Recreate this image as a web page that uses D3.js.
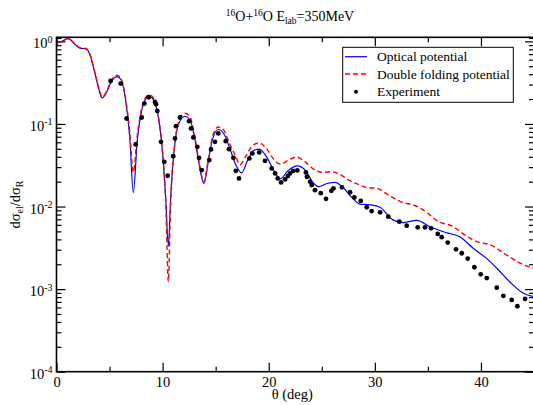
<!DOCTYPE html>
<html>
<head>
<meta charset="utf-8">
<script src="https://cdn.jsdelivr.net/npm/d3@7"></script>
<style>
  body { margin: 0; background: #fff; }
  text { font-family: "Liberation Serif", "DejaVu Serif", serif; }
</style>
</head>
<body>
<svg id="chart"></svg>
<script>
// optical potential (blue solid)
var optAngle = [0, 0.5, 1.1, 1.7, 2.2, 2.8, 3.2, 3.6, 4.0, 4.3, 4.7, 5.2, 5.7, 6.1, 6.5, 6.9, 7.24, 7.6, 8.0, 8.4, 8.75,
  9.2, 9.6, 10.0, 10.3, 10.54, 10.75, 11.1, 11.5, 12.1, 12.6, 13.0, 13.4, 13.9, 14.3, 14.7, 15.25, 15.8, 16.3,
  16.9, 17.45, 18.0, 18.6, 19.1, 19.8, 20.5, 21.1, 21.8, 22.7, 23.5, 24.1, 24.7, 25.5, 26.25, 27.0, 27.8, 28.6,
  29.5, 30.5, 31.1, 31.7, 32.7, 33.95, 35.2, 36.0, 36.8, 38.0, 39.3, 40.5, 41.5, 42.7, 44.0, 45];
var optValue = [0.95, 1.0, 1.08, 0.93, 0.83, 0.81, 0.66, 0.42, 0.26, 0.206, 0.24, 0.33, 0.375, 0.34, 0.2, 0.07, 0.0148, 0.06, 0.14, 0.2, 0.216,
  0.19, 0.12, 0.045, 0.012, 0.0033, 0.012, 0.05, 0.1, 0.124, 0.11, 0.07, 0.035, 0.019, 0.035, 0.065, 0.0857, 0.075, 0.052,
  0.032, 0.0256, 0.036, 0.048, 0.0495, 0.04, 0.027, 0.0217, 0.027, 0.031, 0.027, 0.02, 0.0174, 0.019, 0.0196, 0.017, 0.013, 0.0107,
  0.0105, 0.0098, 0.0082, 0.0069, 0.0064, 0.0068, 0.0057, 0.0052, 0.0048, 0.0043, 0.0031, 0.00237, 0.00179, 0.00123, 0.00089, 0.00081];

// double folding potential (red dashed)
var dfAngle = [0, 0.5, 1.1, 1.7, 2.2, 2.8, 3.2, 3.6, 4.0, 4.3, 4.7, 5.2, 5.7, 6.1, 6.5, 6.9, 7.24, 7.6, 8.0, 8.4, 8.75,
  9.2, 9.6, 10.0, 10.3, 10.54, 10.75, 11.1, 11.5, 12.1, 12.6, 13.0, 13.4, 13.9, 14.3, 14.7, 15.25, 15.8, 16.3,
  16.9, 17.3, 17.8, 18.5, 19.1, 19.8, 20.5, 21.1, 21.8, 22.6, 23.4, 24.3, 25.1, 25.9, 26.6, 27.5, 28.6, 29.2,
  30.2, 31.2, 32.4, 34.0, 35.0, 35.8, 37.4, 38.5, 39.6, 40.9, 42.4, 43.7, 45];
var dfValue = [0.96, 1.0, 1.09, 0.94, 0.84, 0.82, 0.67, 0.43, 0.27, 0.21, 0.245, 0.34, 0.39, 0.35, 0.21, 0.08, 0.026, 0.07, 0.15, 0.21, 0.225,
  0.2, 0.125, 0.045, 0.011, 0.00123, 0.011, 0.05, 0.105, 0.135, 0.12, 0.075, 0.037, 0.02, 0.037, 0.07, 0.092, 0.083, 0.058,
  0.04, 0.032, 0.04, 0.055, 0.059, 0.05, 0.037, 0.0327, 0.036, 0.0397, 0.035, 0.028, 0.0259, 0.0264, 0.025, 0.021, 0.0182, 0.017,
  0.0166, 0.014, 0.0115, 0.01, 0.0083, 0.0068, 0.0057, 0.0045, 0.00376, 0.00343, 0.0026, 0.00206, 0.00178];

// experiment (black dots)
var expAngle = [5.1, 6.05, 6.6, 7.46, 8.03, 8.28, 8.69, 9.28, 9.38, 9.5, 9.85, 10.16, 10.48, 11.0, 11.17, 11.26, 11.64,
  12.49, 12.68, 12.9, 13.27, 13.43, 13.69, 14.4, 14.56, 14.94, 15.25, 15.95, 16.26, 16.67, 16.9, 17.2, 18.17, 18.46,
  19.1, 19.65, 20.28, 20.6, 20.85, 21.16, 21.54, 21.8, 22.0, 22.3, 22.7, 23.5, 23.6, 23.9, 24.05, 24.36, 24.9, 25.4,
  25.9, 26.1, 26.9, 27.66, 28.07, 28.67, 29.24, 29.7, 30.5, 31.27, 32.3, 33.0, 34.04, 34.73, 35.3, 35.93, 36.3, 36.87,
  37.65, 38.19, 38.75, 39.38, 39.98, 40.55, 41.49, 42.11, 42.9, 43.43, 44.16];
var expValue = [0.331, 0.308, 0.1164, 0.0565, 0.1197, 0.1766, 0.2104, 0.185, 0.1734, 0.1439, 0.0607, 0.0348, 0.0236, 0.0407, 0.0667, 0.094, 0.1197,
  0.1079, 0.0881, 0.0686, 0.0528, 0.0389, 0.0276, 0.0365, 0.0491, 0.0607, 0.0767, 0.0619, 0.0495, 0.0389, 0.0271, 0.0219, 0.0382, 0.044,
  0.0452, 0.0358, 0.0289, 0.0252, 0.0219, 0.0196, 0.0213, 0.0234, 0.0252, 0.0271, 0.0274, 0.0259, 0.0229, 0.02, 0.0182, 0.0158, 0.0145, 0.0124,
  0.0155, 0.0166, 0.0171, 0.0149, 0.0129, 0.0117, 0.0098, 0.0088, 0.0085, 0.00753, 0.00655, 0.00586, 0.0056, 0.0056, 0.00545, 0.00466, 0.00425, 0.00366,
  0.00303, 0.00272, 0.00234, 0.00184, 0.00151, 0.00136, 0.00104, 0.00083, 0.00074, 0.00062, 0.00076];

var xMajor = [0, 10, 20, 30, 40];
var xMinor = [5, 15, 25, 35];
var yMajor = [1e-4, 1e-3, 1e-2, 1e-1, 1];
var yExp = ["-4", "-3", "-2", "-1", "0"];
var legendLabels = ["Optical potential", "Double folding potential", "Experiment"];

var w = 533, h = 405;
var pLeft = 56.5, pTop = 37.3, pRight = 534, pBottom = 371.7;

var svg = d3.select("#chart").attr("width", w).attr("height", h);

var x = d3.scaleLinear().domain([0, 45]).range([pLeft, pRight]);
var y = d3.scaleLog().domain([1e-4, 1.12]).range([pBottom, pTop]);

var yMinor = [];
for (var e = -4; e < 1; e++) {
  for (var k = 2; k <= 9; k++) {
    var v = k * Math.pow(10, e);
    if (v < 1.12) yMinor.push(v);
  }
}
yMinor.push(1.1);

svg.append("clipPath").attr("id", "clip")
  .append("rect").attr("x", pLeft).attr("y", pTop)
  .attr("width", pRight - pLeft).attr("height", pBottom - pTop);

// axes, ticks inward
function noLine(g) { g.select(".domain").remove(); }

svg.append("g").attr("transform", "translate(0," + pBottom + ")")
  .call(d3.axisBottom(x).tickValues(xMajor).tickSize(-9).tickPadding(5).tickFormat(d3.format("d")))
  .call(noLine)
  .call(function(g) { g.selectAll("text").attr("font-size", 14.5).attr("fill", "#000")
    .style("font-family", "Liberation Serif"); });
svg.append("g").attr("transform", "translate(0," + pBottom + ")")
  .call(d3.axisBottom(x).tickValues(xMinor).tickSize(-5).tickFormat(""))
  .call(noLine);
svg.append("g").attr("transform", "translate(0," + pTop + ")")
  .call(d3.axisTop(x).tickValues(xMajor).tickSize(-9).tickFormat(""))
  .call(noLine);
svg.append("g").attr("transform", "translate(0," + pTop + ")")
  .call(d3.axisTop(x).tickValues(xMinor).tickSize(-5).tickFormat(""))
  .call(noLine);

var yAxis = svg.append("g").attr("transform", "translate(" + pLeft + ",0)")
  .call(d3.axisLeft(y).tickValues(yMajor).tickSize(-9).tickPadding(4).tickFormat(""))
  .call(noLine);
svg.append("g").attr("transform", "translate(" + pLeft + ",0)")
  .call(d3.axisLeft(y).tickValues(yMinor).tickSize(-5).tickFormat(""))
  .call(noLine);
svg.append("g").attr("transform", "translate(" + pRight + ",0)")
  .call(d3.axisRight(y).tickValues(yMajor).tickSize(-9).tickFormat(""))
  .call(noLine);
svg.append("g").attr("transform", "translate(" + pRight + ",0)")
  .call(d3.axisRight(y).tickValues(yMinor).tickSize(-5).tickFormat(""))
  .call(noLine);

svg.selectAll(".tick line").attr("stroke", "#000").attr("stroke-width", 1.2);

// y tick labels 10^n
yAxis.selectAll(".tick text").each(function(d, i) {
  var t = d3.select(this).attr("x", -4).attr("dy", "0.45em")
    .attr("font-size", 14.5).attr("fill", "#000").attr("text-anchor", "end")
    .style("font-family", "Liberation Serif");
  t.append("tspan").text("10");
  t.append("tspan").attr("dy", "-0.55em").attr("font-size", 10).text(yExp[i]);
});

// curves
var line = d3.line()
  .x(function(d) { return x(d[0]); })
  .y(function(d) { return y(d[1]); })
  .curve(d3.curveMonotoneX);

var opt = optAngle.map(function(a, i) { return [a, optValue[i]]; });
var df = dfAngle.map(function(a, i) { return [a, dfValue[i]]; });
var ex = expAngle.map(function(a, i) { return [a, expValue[i]]; });

var plot = svg.append("g").attr("clip-path", "url(#clip)");

plot.append("path").datum(opt)
  .attr("d", line).attr("fill", "none")
  .attr("stroke", "#0000ff").attr("stroke-width", 1.2);

plot.append("path").datum(df)
  .attr("d", line).attr("fill", "none")
  .attr("stroke", "#ff0000").attr("stroke-width", 1.4)
  .attr("stroke-dasharray", "5,3");

plot.selectAll("circle").data(ex).enter().append("circle")
  .attr("cx", function(d) { return x(d[0]); })
  .attr("cy", function(d) { return y(d[1]); })
  .attr("r", 2.4).attr("fill", "#000");

// frame
svg.append("rect").attr("x", pLeft).attr("y", pTop)
  .attr("width", pRight - pLeft).attr("height", pBottom - pTop)
  .attr("fill", "none").attr("stroke", "#000").attr("stroke-width", 1.6);

// legend
var lg = svg.append("g");
lg.append("rect").attr("x", 342.7).attr("y", 47.3).attr("width", 170.6).attr("height", 55)
  .attr("fill", "#fff").attr("stroke", "#000").attr("stroke-width", 1);
var ly = [56.7, 74, 91.7];
lg.append("line").attr("x1", 345).attr("x2", 367).attr("y1", ly[0]).attr("y2", ly[0])
  .attr("stroke", "#0000ff").attr("stroke-width", 1.2);
lg.append("line").attr("x1", 345).attr("x2", 367).attr("y1", ly[1]).attr("y2", ly[1])
  .attr("stroke", "#ff0000").attr("stroke-width", 1.4).attr("stroke-dasharray", "5,3");
lg.append("circle").attr("cx", 356).attr("cy", ly[2]).attr("r", 2).attr("fill", "#000");
lg.selectAll("text.lab").data(legendLabels).enter().append("text")
  .attr("class", "lab")
  .attr("x", 377).attr("y", function(d, i) { return ly[i] + 4.5; })
  .attr("font-size", 13.5).text(function(d) { return d; });

// title
var title = svg.append("text").attr("x", 290).attr("y", 21)
  .attr("text-anchor", "middle").attr("font-size", 14);
title.append("tspan").attr("font-size", 9.5).attr("dy", -5).text("16");
title.append("tspan").attr("dy", 5).text("O+");
title.append("tspan").attr("font-size", 9.5).attr("dy", -5).text("16");
title.append("tspan").attr("dy", 5).text("O E");
title.append("tspan").attr("font-size", 9.5).attr("dy", 3).text("lab");
title.append("tspan").attr("dy", -3).text("=350MeV");

// axis labels
svg.append("text").attr("x", (pLeft + pRight) / 2 - 3).attr("y", 399)
  .attr("text-anchor", "middle").attr("font-size", 14.5).text("\u03b8 (deg)");

var yl = svg.append("text")
  .attr("transform", "translate(20," + ((pTop + pBottom) / 2) + ") rotate(-90)")
  .attr("text-anchor", "middle").attr("font-size", 14.5);
yl.append("tspan").text("d\u03c3");
yl.append("tspan").attr("font-size", 10).attr("dy", 3).text("el");
yl.append("tspan").attr("dy", -3).text("/d\u03c3");
yl.append("tspan").attr("font-size", 10).attr("dy", 3).text("R");
</script>
</body>
</html>
